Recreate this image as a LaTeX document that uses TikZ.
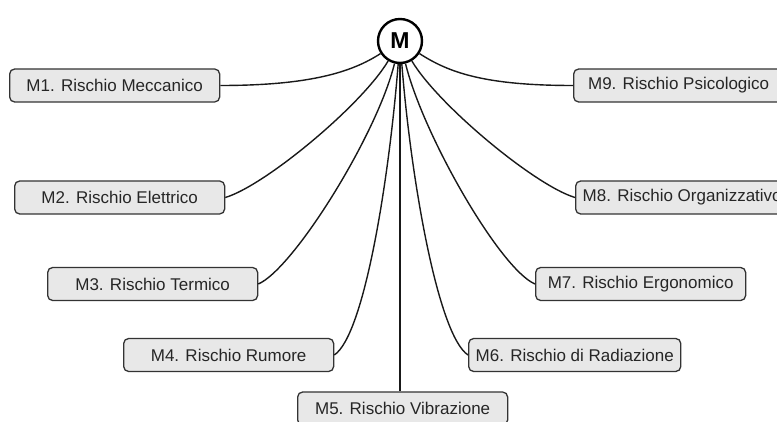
\documentclass[tikz,border=0pt]{standalone}
\usepackage{fontspec}
\setmainfont{Liberation Sans}
\definecolor{boxfill}{HTML}{E8E8E8}
\definecolor{boxline}{HTML}{333333}
\tikzset{
  riskbox/.style={draw=boxline, line width=1.3pt, fill=boxfill, rounded corners=5pt,
    minimum width=210pt, minimum height=33pt, inner xsep=7pt, anchor=west,
    font=\fontsize{17}{20}\selectfont, text=black!85},
  hub/.style={circle, draw=black, line width=2.4pt, fill=white, minimum size=44pt, inner sep=0pt,
    font=\fontsize{23}{26}\selectfont\bfseries},
  link/.style={draw=black!90, line width=1.4pt}
}
\begin{document}
\begin{tikzpicture}[x=1pt,y=-1pt]
\useasboundingbox (0,0) rectangle (777,422);
\clip (0,0) rectangle (777,422);
\node[riskbox] (m1) at (9,85.5) {M1. Rischio Meccanico};
\node[riskbox] (m2) at (14,197.5) {M2. Rischio Elettrico};
\node[riskbox] (m3) at (47,284) {M3. Rischio Termico};
\node[riskbox] (m4) at (123,355) {M4. Rischio Rumore};
\node[riskbox] (m5) at (297,408.5) {M5. Rischio Vibrazione};
\node[riskbox] (m6) at (468,355) {M6. Rischio di Radiazione};
\node[riskbox] (m7) at (535,284) {M7. Rischio Ergonomico};
\node[riskbox] (m8) at (575,197.5) {M8. Rischio Organizzativo};
\node[riskbox] (m9) at (573,85.5) {M9. Rischio Psicologico};
\node[hub] (M) at (400,41) {M};
\begin{scope}[on background layer/.try]
\end{scope}
\path[link] (m1.east) .. controls +(90,0) and (352,72) .. (M);
\path[link] (m2.east) .. controls +(40,-12) and (362,105) .. (M);
\path[link] (m3.east) .. controls +(35,-15) and (377,135) .. (M);
\path[link] (m4.east) .. controls +(30,-20) and (389,180) .. (M);
\path[link] (M) -- (m5.north -| M);
\path[link] (m6.west) .. controls +(-30,-20) and (411,180) .. (M);
\path[link] (m7.west) .. controls +(-35,-15) and (423,135) .. (M);
\path[link] (m8.west) .. controls +(-40,-12) and (438,105) .. (M);
\path[link] (m9.west) .. controls +(-90,0) and (448,72) .. (M);
\end{tikzpicture}
\end{document}
